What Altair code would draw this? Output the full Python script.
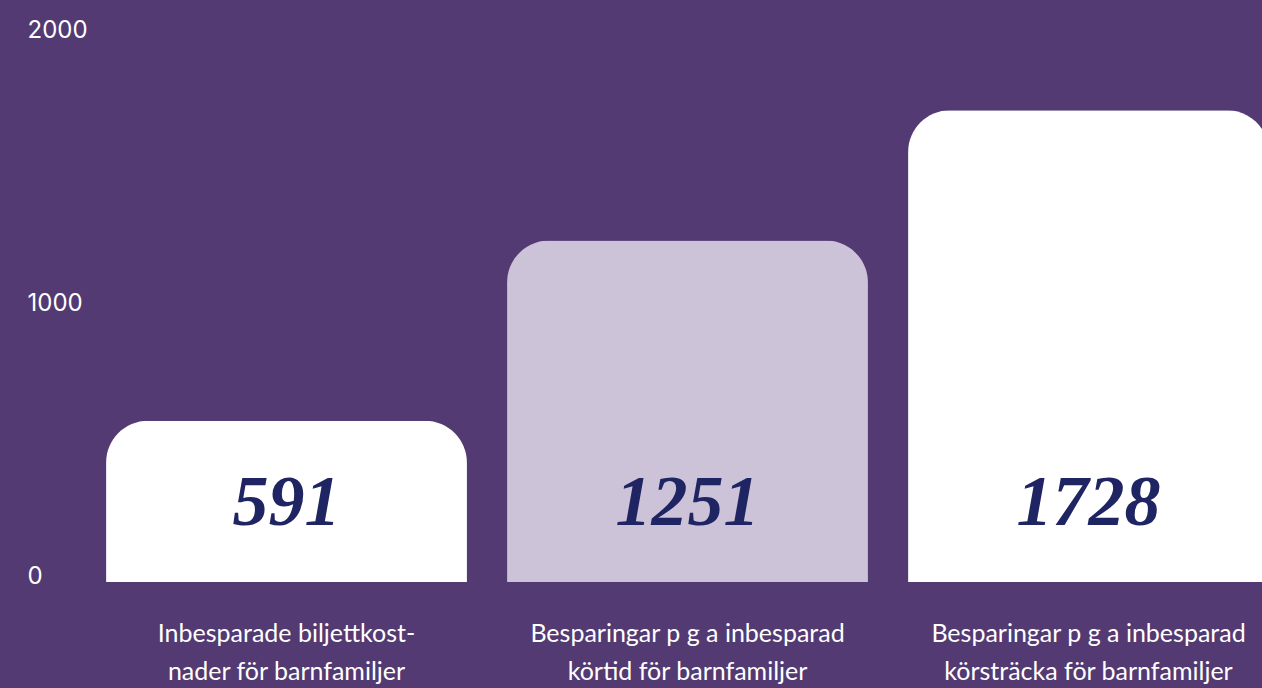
import altair as alt
import pandas as pd

categories = [
    "Inbesparade biljettkost-\nnader för barnfamiljer",
    "Besparingar p g a inbesparad\nkörtid för barnfamiljer",
    "Besparingar p g a  inbesparad\nkörsträcka för barnfamiljer",
]
values = [591, 1251, 1728]
labels = ["591", "1251", "1728"]
bar_colors = ["#ffffff", "#cdc3d8", "#ffffff"]

BG = "#533a72"
NAVY = "#1f2462"

df = pd.DataFrame({"category": categories, "value": values, "label": labels})

x_enc = alt.X(
    "category:N",
    sort=None,
    scale=alt.Scale(range=[86, 1289], paddingInner=0.1, paddingOuter=0.05),
    axis=alt.Axis(
        title=None,
        domain=False,
        ticks=False,
        labelAngle=0,
        labelColor="white",
        labelFont="Lato",
        labelFontSize=25,
        labelLineHeight=38,
        labelBaseline="top",
        labelPadding=39,
        labelLimit=0,
        labelOverlap=False,
        labelExpr="split(datum.label, '\\n')",
    ),
)

y_scale = alt.Scale(domain=[0, 2000], nice=False)

bars = alt.Chart(df).mark_bar(
    cornerRadiusTopLeft=42, cornerRadiusTopRight=42
).encode(
    x=x_enc,
    y=alt.Y(
        "value:Q",
        scale=y_scale,
        axis=alt.Axis(
            title=None,
            values=[0, 1000, 2000],
            format="d",
            grid=False,
            domain=False,
            ticks=False,
            labelAlign="left",
            labelPadding=-27,
            labelOffset=-6,
            labelColor="white",
            labelFont="Inter",
            labelFontSize=24,
        ),
    ),
    color=alt.Color(
        "category:N", sort=None,
        scale=alt.Scale(domain=categories, range=bar_colors), legend=None
    ),
)

text = alt.Chart(df).mark_text(
    font="Liberation Serif",
    fontStyle="italic",
    fontWeight="bold",
    fontSize=72,
    color=NAVY,
    baseline="alphabetic",
    align="center",
).encode(
    x=alt.X("category:N", sort=None),
    y=alt.datum(209, scale=y_scale),
    text="label:N",
)

chart = (
    alt.layer(bars, text)
    .properties(
        width=1262,
        height=546,
        background=BG,
        padding={"left": 0, "right": 0, "top": 36, "bottom": 106},
        autosize=alt.AutoSizeParams(type="none"),
    )
    .configure_view(stroke=None)
)

chart.save("out.html", embed_options={"renderer": "svg", "actions": False})
